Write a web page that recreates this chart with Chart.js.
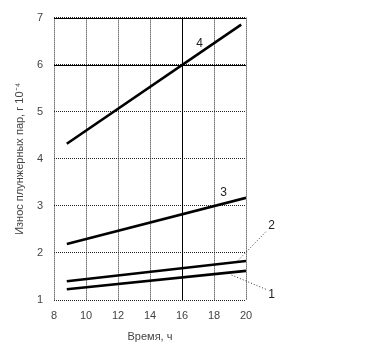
<!DOCTYPE html>
<html lang="ru">
<head>
    <meta charset="UTF-8" />
    <title>Износ плунжерных пар</title>
    <script src="https://cdn.jsdelivr.net/npm/chart.js"></script>
    <style>
        body { margin: 0; background: #fff; }
        canvas { display: block; }
    </style>
</head>
<body>
    <canvas id="iznos" width="367" height="363"></canvas>

<script>
    // данные кривых 1..4 (время, ч / износ, г 10^-4)
    const curveNames = ['1', '2', '3', '4'];
    const startHour = [8.8, 8.8, 8.8, 8.8];
    const endHour = [20, 20, 20, 19.7];
    const startWear = [1.23, 1.40, 2.19, 4.32];
    const endWear = [1.62, 1.83, 3.17, 6.85];

    // подписи кривых
    const labelHour = [21.6, 21.6, 18.6, 17.1];
    const labelWear = [1.11, 2.58, 3.27, 6.45];

    // выноски для 1 и 2
    const leader1Hour = [19.1, 21.3];
    const leader1Wear = [1.53, 1.22];
    const leader2Hour = [19.5, 21.3];
    const leader2Wear = [1.84, 2.47];

    // сплошные линии сетки
    const solidWear = [6, 7];
    const solidHour = [16];

    const textColor = '#444';

    const datasets = curveNames.map((n, i) => ({
        label: n,
        data: [{ x: startHour[i], y: startWear[i] }, { x: endHour[i], y: endWear[i] }],
        borderColor: '#000',
        borderWidth: 2.6,
        pointRadius: 0,
        fill: false
    }));

    function leader(hours, wear) {
        return {
            label: 'leader',
            data: hours.map((h, i) => ({ x: h, y: wear[i] })),
            borderColor: '#333',
            borderWidth: 1,
            borderDash: [1, 2],
            pointRadius: 0,
            clip: false
        };
    }
    datasets.push(leader(leader1Hour, leader1Wear));
    datasets.push(leader(leader2Hour, leader2Wear));

    const extras = {
        id: 'extras',
        beforeDatasetsDraw(chart) {
            const ctx = chart.ctx;
            const xs = chart.scales.x, ys = chart.scales.y;
            const a = chart.chartArea;
            ctx.save();
            ctx.strokeStyle = '#000';
            ctx.lineWidth = 1;
            ctx.beginPath();
            solidWear.forEach(v => {
                const y = Math.round(ys.getPixelForValue(v)) + 0.5;
                ctx.moveTo(a.left, y);
                ctx.lineTo(a.right, y);
            });
            solidHour.forEach(v => {
                const x = Math.round(xs.getPixelForValue(v)) + 0.5;
                ctx.moveTo(x, a.top);
                ctx.lineTo(x, a.bottom);
            });
            ctx.stroke();
            ctx.restore();
        },
        afterDatasetsDraw(chart) {
            const ctx = chart.ctx;
            const xs = chart.scales.x, ys = chart.scales.y;
            ctx.save();
            ctx.fillStyle = '#222';
            ctx.font = '12px "Liberation Sans", Arial, sans-serif';
            ctx.textAlign = 'center';
            ctx.textBaseline = 'middle';
            curveNames.forEach((n, i) => {
                ctx.fillText(n, xs.getPixelForValue(labelHour[i]), ys.getPixelForValue(labelWear[i]));
            });
            ctx.restore();
        }
    };

    new Chart(document.getElementById('iznos'), {
        type: 'line',
        data: { datasets: datasets },
        options: {
            responsive: false,
            animation: false,
            layout: { padding: { left: 0, top: 13, right: 121, bottom: 12 } },
            plugins: {
                legend: { display: false },
                tooltip: { enabled: false }
            },
            scales: {
                x: {
                    type: 'linear',
                    min: 8,
                    max: 20,
                    ticks: {
                        stepSize: 2,
                        color: textColor,
                        padding: 9,
                        font: { size: 11, family: '"Liberation Sans", Arial, sans-serif' }
                    },
                    grid: { color: '#222', lineWidth: 1, drawTicks: false },
                    border: { display: false, dash: [1, 1] },
                    title: {
                        display: true,
                        text: 'Время, ч',
                        color: textColor,
                        padding: { top: 3, bottom: 7 },
                        font: { size: 11, family: '"Liberation Sans", Arial, sans-serif' }
                    },
                    afterFit(scale) { scale.height = 51; }
                },
                y: {
                    min: 1,
                    max: 7,
                    ticks: {
                        stepSize: 1,
                        color: textColor,
                        padding: 11,
                        font: { size: 11, family: '"Liberation Sans", Arial, sans-serif' }
                    },
                    grid: { color: '#222', lineWidth: 1, drawTicks: false },
                    border: { display: false, dash: [1, 1] },
                    title: {
                        display: true,
                        text: 'Износ плунжерных пар, г 10⁻⁴',
                        color: textColor,
                        padding: { top: 13, bottom: 2 },
                        font: { size: 11, family: '"Liberation Sans", Arial, sans-serif' }
                    },
                    afterFit(scale) { scale.width = 54; }
                }
            }
        },
        plugins: [extras]
    });
</script>
</body>
</html>
